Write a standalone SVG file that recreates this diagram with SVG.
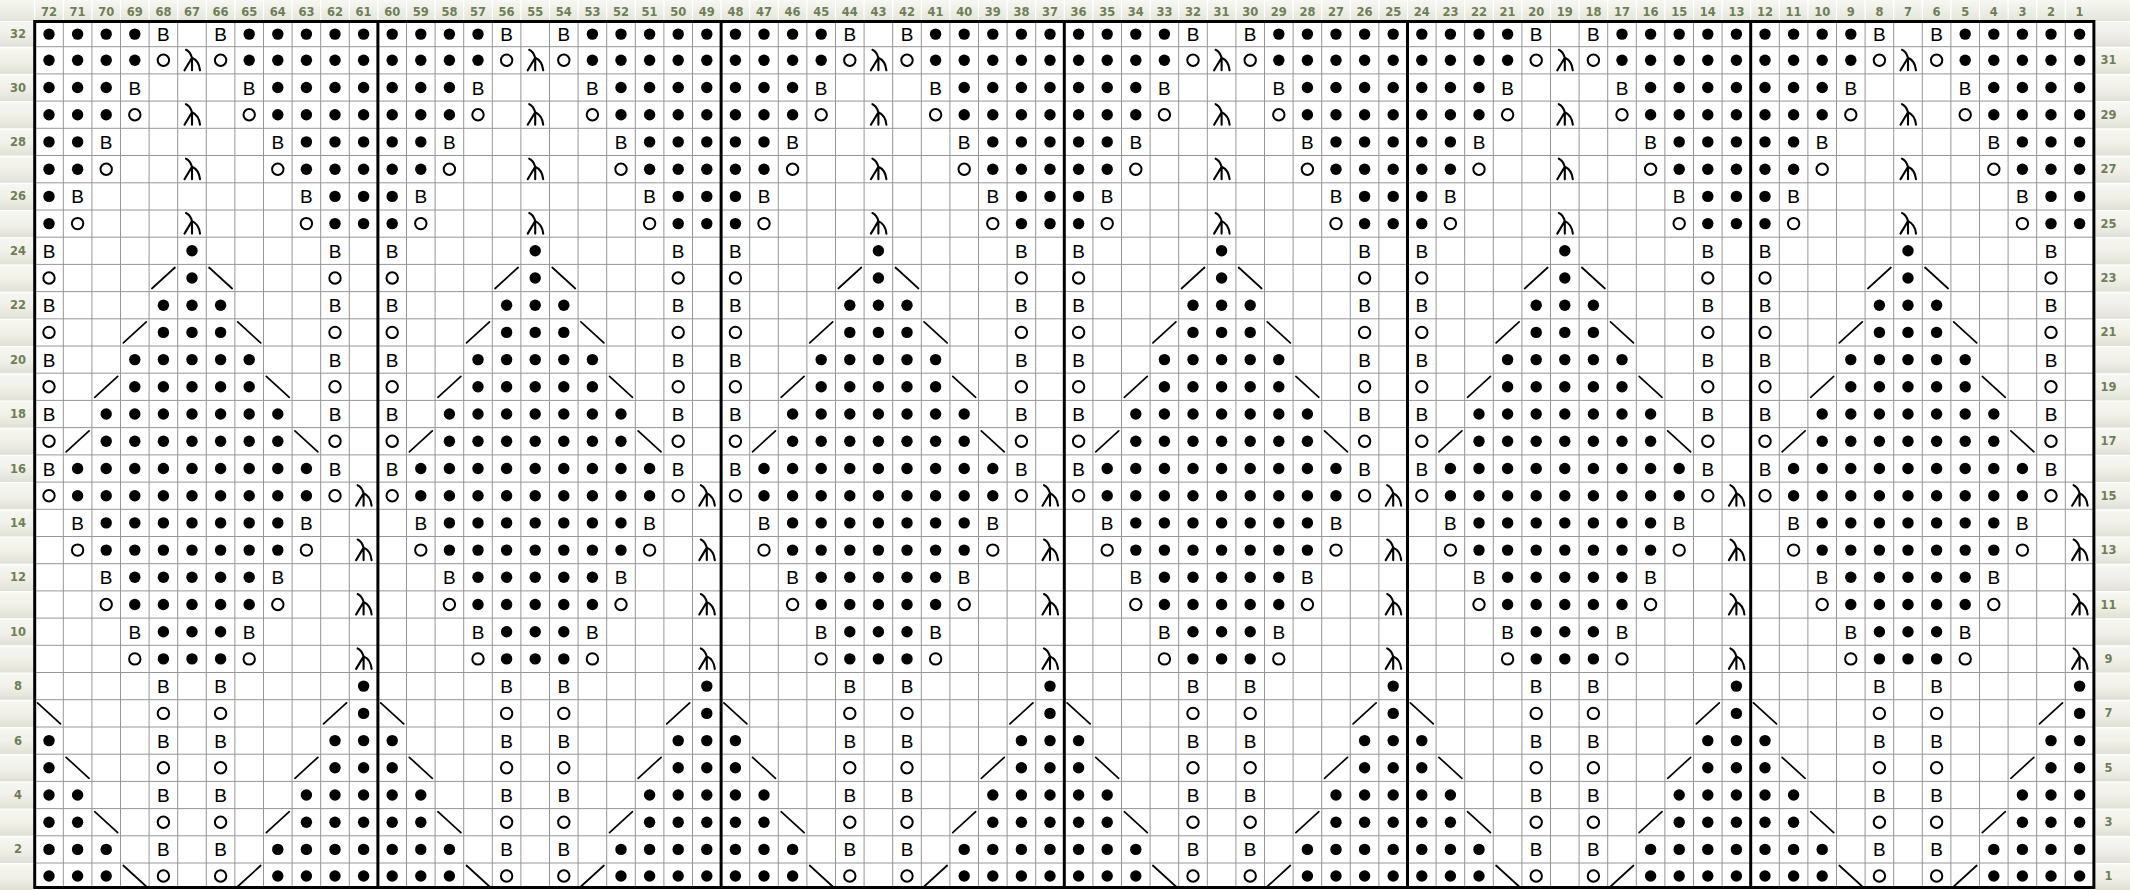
<svg xmlns="http://www.w3.org/2000/svg" width="2130" height="890" viewBox="0 0 2130 890">
<style>
.gl{stroke:#969696;stroke-width:1;fill:none}
.hs{stroke:#ffffff;stroke-width:1.2;fill:none}
.tk{stroke:#000;stroke-width:3;fill:none;stroke-linecap:square}
.lbl{font-family:"DejaVu Sans",Verdana,sans-serif;font-weight:bold;font-size:11.5px;fill:#6f7e57;text-anchor:middle}
.b{font-family:"Liberation Sans",Arial,sans-serif;font-size:19px;fill:#000;text-anchor:middle}
.dg{stroke:#000;stroke-width:1.7;stroke-linecap:round;fill:none}
</style>
<defs>
<linearGradient id="hg" x1="0" y1="0" x2="0" y2="1"><stop offset="0" stop-color="#f8f8f3"/><stop offset="1" stop-color="#e3e5d9"/></linearGradient>
<linearGradient id="sg" x1="0" y1="0" x2="0" y2="1"><stop offset="0" stop-color="#f7f7f2"/><stop offset="0.5" stop-color="#f1f1ea"/><stop offset="1" stop-color="#e0e1d5"/></linearGradient>
<pattern id="sp" patternUnits="userSpaceOnUse" x="0" y="19.49" width="40" height="27.21"><rect width="40" height="27.21" fill="url(#sg)"/><rect width="40" height="1.2" fill="#fff"/></pattern>
<circle id="d" r="5.7" fill="#000"/>
<circle id="o" r="5.7" fill="none" stroke="#000" stroke-width="2"/>
<text id="B" class="b" x="0" y="7">B</text>
<path id="l" d="M-6,-10.5Q-2,-9 0,-2.5M0,-2.5L-7.5,10M0,-2.5L0,10M0,-2.5Q7,0.5 8,10" fill="none" stroke="#000" stroke-width="2.1" stroke-linecap="round"/>
<line id="f" class="dg" x1="-11.5" y1="10.5" x2="11.5" y2="-10.5"/>
<line id="k" class="dg" x1="-11.5" y1="-10.5" x2="11.5" y2="10.5"/>
<g id="rep">
<path class="hs" d="M0,0V21M28.6,0V21M57.2,0V21M85.8,0V21M114.4,0V21M143,0V21M171.6,0V21M200.2,0V21M228.8,0V21M257.4,0V21M286,0V21M314.6,0V21"/>
<path class="gl" d="M28.6,21.5V887.5M57.2,21.5V887.5M85.8,21.5V887.5M114.4,21.5V887.5M143,21.5V887.5M171.6,21.5V887.5M200.2,21.5V887.5M228.8,21.5V887.5M257.4,21.5V887.5M286,21.5V887.5M314.6,21.5V887.5"/>
<g transform="translate(0,34.1)"><use href="#d" x="14.3"/><use href="#d" x="42.9"/><use href="#d" x="71.5"/><use href="#d" x="100.1"/><use href="#B" x="128.7"/><use href="#B" x="185.9"/><use href="#d" x="214.5"/><use href="#d" x="243.1"/><use href="#d" x="271.7"/><use href="#d" x="300.3"/><use href="#d" x="328.9"/></g>
<g transform="translate(0,60.3)"><use href="#d" x="14.3"/><use href="#d" x="42.9"/><use href="#d" x="71.5"/><use href="#d" x="100.1"/><use href="#o" x="128.7"/><use href="#l" x="157.3"/><use href="#o" x="185.9"/><use href="#d" x="214.5"/><use href="#d" x="243.1"/><use href="#d" x="271.7"/><use href="#d" x="300.3"/><use href="#d" x="328.9"/></g>
<g transform="translate(0,87.5)"><use href="#d" x="14.3"/><use href="#d" x="42.9"/><use href="#d" x="71.5"/><use href="#B" x="100.1"/><use href="#B" x="214.5"/><use href="#d" x="243.1"/><use href="#d" x="271.7"/><use href="#d" x="300.3"/><use href="#d" x="328.9"/></g>
<g transform="translate(0,114.7)"><use href="#d" x="14.3"/><use href="#d" x="42.9"/><use href="#d" x="71.5"/><use href="#o" x="100.1"/><use href="#l" x="157.3"/><use href="#o" x="214.5"/><use href="#d" x="243.1"/><use href="#d" x="271.7"/><use href="#d" x="300.3"/><use href="#d" x="328.9"/></g>
<g transform="translate(0,141.9)"><use href="#d" x="14.3"/><use href="#d" x="42.9"/><use href="#B" x="71.5"/><use href="#B" x="243.1"/><use href="#d" x="271.7"/><use href="#d" x="300.3"/><use href="#d" x="328.9"/></g>
<g transform="translate(0,169.2)"><use href="#d" x="14.3"/><use href="#d" x="42.9"/><use href="#o" x="71.5"/><use href="#l" x="157.3"/><use href="#o" x="243.1"/><use href="#d" x="271.7"/><use href="#d" x="300.3"/><use href="#d" x="328.9"/></g>
<g transform="translate(0,196.4)"><use href="#d" x="14.3"/><use href="#B" x="42.9"/><use href="#B" x="271.7"/><use href="#d" x="300.3"/><use href="#d" x="328.9"/></g>
<g transform="translate(0,223.6)"><use href="#d" x="14.3"/><use href="#o" x="42.9"/><use href="#l" x="157.3"/><use href="#o" x="271.7"/><use href="#d" x="300.3"/><use href="#d" x="328.9"/></g>
<g transform="translate(0,250.8)"><use href="#B" x="14.3"/><use href="#d" x="157.3"/><use href="#B" x="300.3"/></g>
<g transform="translate(0,278)"><use href="#o" x="14.3"/><use href="#f" x="128.7"/><use href="#d" x="157.3"/><use href="#k" x="185.9"/><use href="#o" x="300.3"/></g>
<g transform="translate(0,305.2)"><use href="#B" x="14.3"/><use href="#d" x="128.7"/><use href="#d" x="157.3"/><use href="#d" x="185.9"/><use href="#B" x="300.3"/></g>
<g transform="translate(0,332.4)"><use href="#o" x="14.3"/><use href="#f" x="100.1"/><use href="#d" x="128.7"/><use href="#d" x="157.3"/><use href="#d" x="185.9"/><use href="#k" x="214.5"/><use href="#o" x="300.3"/></g>
<g transform="translate(0,359.6)"><use href="#B" x="14.3"/><use href="#d" x="100.1"/><use href="#d" x="128.7"/><use href="#d" x="157.3"/><use href="#d" x="185.9"/><use href="#d" x="214.5"/><use href="#B" x="300.3"/></g>
<g transform="translate(0,386.8)"><use href="#o" x="14.3"/><use href="#f" x="71.5"/><use href="#d" x="100.1"/><use href="#d" x="128.7"/><use href="#d" x="157.3"/><use href="#d" x="185.9"/><use href="#d" x="214.5"/><use href="#k" x="243.1"/><use href="#o" x="300.3"/></g>
<g transform="translate(0,414)"><use href="#B" x="14.3"/><use href="#d" x="71.5"/><use href="#d" x="100.1"/><use href="#d" x="128.7"/><use href="#d" x="157.3"/><use href="#d" x="185.9"/><use href="#d" x="214.5"/><use href="#d" x="243.1"/><use href="#B" x="300.3"/></g>
<g transform="translate(0,441.3)"><use href="#o" x="14.3"/><use href="#f" x="42.9"/><use href="#d" x="71.5"/><use href="#d" x="100.1"/><use href="#d" x="128.7"/><use href="#d" x="157.3"/><use href="#d" x="185.9"/><use href="#d" x="214.5"/><use href="#d" x="243.1"/><use href="#k" x="271.7"/><use href="#o" x="300.3"/></g>
<g transform="translate(0,468.5)"><use href="#B" x="14.3"/><use href="#d" x="42.9"/><use href="#d" x="71.5"/><use href="#d" x="100.1"/><use href="#d" x="128.7"/><use href="#d" x="157.3"/><use href="#d" x="185.9"/><use href="#d" x="214.5"/><use href="#d" x="243.1"/><use href="#d" x="271.7"/><use href="#B" x="300.3"/></g>
<g transform="translate(0,495.7)"><use href="#o" x="14.3"/><use href="#d" x="42.9"/><use href="#d" x="71.5"/><use href="#d" x="100.1"/><use href="#d" x="128.7"/><use href="#d" x="157.3"/><use href="#d" x="185.9"/><use href="#d" x="214.5"/><use href="#d" x="243.1"/><use href="#d" x="271.7"/><use href="#o" x="300.3"/><use href="#l" x="328.9"/></g>
<g transform="translate(0,522.9)"><use href="#B" x="42.9"/><use href="#d" x="71.5"/><use href="#d" x="100.1"/><use href="#d" x="128.7"/><use href="#d" x="157.3"/><use href="#d" x="185.9"/><use href="#d" x="214.5"/><use href="#d" x="243.1"/><use href="#B" x="271.7"/></g>
<g transform="translate(0,550.1)"><use href="#o" x="42.9"/><use href="#d" x="71.5"/><use href="#d" x="100.1"/><use href="#d" x="128.7"/><use href="#d" x="157.3"/><use href="#d" x="185.9"/><use href="#d" x="214.5"/><use href="#d" x="243.1"/><use href="#o" x="271.7"/><use href="#l" x="328.9"/></g>
<g transform="translate(0,577.3)"><use href="#B" x="71.5"/><use href="#d" x="100.1"/><use href="#d" x="128.7"/><use href="#d" x="157.3"/><use href="#d" x="185.9"/><use href="#d" x="214.5"/><use href="#B" x="243.1"/></g>
<g transform="translate(0,604.5)"><use href="#o" x="71.5"/><use href="#d" x="100.1"/><use href="#d" x="128.7"/><use href="#d" x="157.3"/><use href="#d" x="185.9"/><use href="#d" x="214.5"/><use href="#o" x="243.1"/><use href="#l" x="328.9"/></g>
<g transform="translate(0,631.7)"><use href="#B" x="100.1"/><use href="#d" x="128.7"/><use href="#d" x="157.3"/><use href="#d" x="185.9"/><use href="#B" x="214.5"/></g>
<g transform="translate(0,658.9)"><use href="#o" x="100.1"/><use href="#d" x="128.7"/><use href="#d" x="157.3"/><use href="#d" x="185.9"/><use href="#o" x="214.5"/><use href="#l" x="328.9"/></g>
<g transform="translate(0,686.1)"><use href="#B" x="128.7"/><use href="#B" x="185.9"/><use href="#d" x="328.9"/></g>
<g transform="translate(0,713.4)"><use href="#k" x="14.3"/><use href="#o" x="128.7"/><use href="#o" x="185.9"/><use href="#f" x="300.3"/><use href="#d" x="328.9"/></g>
<g transform="translate(0,740.6)"><use href="#d" x="14.3"/><use href="#B" x="128.7"/><use href="#B" x="185.9"/><use href="#d" x="300.3"/><use href="#d" x="328.9"/></g>
<g transform="translate(0,767.8)"><use href="#d" x="14.3"/><use href="#k" x="42.9"/><use href="#o" x="128.7"/><use href="#o" x="185.9"/><use href="#f" x="271.7"/><use href="#d" x="300.3"/><use href="#d" x="328.9"/></g>
<g transform="translate(0,795)"><use href="#d" x="14.3"/><use href="#d" x="42.9"/><use href="#B" x="128.7"/><use href="#B" x="185.9"/><use href="#d" x="271.7"/><use href="#d" x="300.3"/><use href="#d" x="328.9"/></g>
<g transform="translate(0,822.2)"><use href="#d" x="14.3"/><use href="#d" x="42.9"/><use href="#k" x="71.5"/><use href="#o" x="128.7"/><use href="#o" x="185.9"/><use href="#f" x="243.1"/><use href="#d" x="271.7"/><use href="#d" x="300.3"/><use href="#d" x="328.9"/></g>
<g transform="translate(0,849.4)"><use href="#d" x="14.3"/><use href="#d" x="42.9"/><use href="#d" x="71.5"/><use href="#B" x="128.7"/><use href="#B" x="185.9"/><use href="#d" x="243.1"/><use href="#d" x="271.7"/><use href="#d" x="300.3"/><use href="#d" x="328.9"/></g>
<g transform="translate(0,876)"><use href="#d" x="14.3"/><use href="#d" x="42.9"/><use href="#d" x="71.5"/><use href="#k" x="100.1"/><use href="#o" x="128.7"/><use href="#o" x="185.9"/><use href="#f" x="214.5"/><use href="#d" x="243.1"/><use href="#d" x="271.7"/><use href="#d" x="300.3"/><use href="#d" x="328.9"/></g>
</g>
</defs>
<rect width="2130" height="890" fill="#fff"/>
<g id="header">
<rect x="0" y="0" width="2130" height="21" fill="url(#hg)"/>
<rect x="0" y="21.5" width="33" height="868.5" fill="url(#sp)"/>
<rect x="2095.5" y="21.5" width="34.5" height="868.5" fill="url(#sp)"/>
</g>
<g id="chart">
<use href="#rep" x="34.7"/>
<use href="#rep" x="377.9"/>
<use href="#rep" x="721.1"/>
<use href="#rep" x="1064.3"/>
<use href="#rep" x="1407.5"/>
<use href="#rep" x="1750.7"/>
<path class="gl" d="M34.7,46.7H2093.9M34.7,73.9H2093.9M34.7,101.1H2093.9M34.7,128.3H2093.9M34.7,155.5H2093.9M34.7,182.8H2093.9M34.7,210H2093.9M34.7,237.2H2093.9M34.7,264.4H2093.9M34.7,291.6H2093.9M34.7,318.8H2093.9M34.7,346H2093.9M34.7,373.2H2093.9M34.7,400.4H2093.9M34.7,427.6H2093.9M34.7,454.9H2093.9M34.7,482.1H2093.9M34.7,509.3H2093.9M34.7,536.5H2093.9M34.7,563.7H2093.9M34.7,590.9H2093.9M34.7,618.1H2093.9M34.7,645.3H2093.9M34.7,672.5H2093.9M34.7,699.7H2093.9M34.7,727H2093.9M34.7,754.2H2093.9M34.7,781.4H2093.9M34.7,808.6H2093.9M34.7,835.8H2093.9M34.7,863H2093.9"/>
<path class="tk" d="M34.7,21.5H2093.9M34.7,887.5H2093.9M34.7,21.5V887.5M377.9,21.5V887.5M721.1,21.5V887.5M1064.3,21.5V887.5M1407.5,21.5V887.5M1750.7,21.5V887.5M2093.9,21.5V887.5"/>
</g>
<g id="col-labels" class="lbl">
<text x="49" y="15.5">72</text><text x="77.6" y="15.5">71</text><text x="106.2" y="15.5">70</text><text x="134.8" y="15.5">69</text><text x="163.4" y="15.5">68</text><text x="192" y="15.5">67</text><text x="220.6" y="15.5">66</text><text x="249.2" y="15.5">65</text><text x="277.8" y="15.5">64</text><text x="306.4" y="15.5">63</text><text x="335" y="15.5">62</text><text x="363.6" y="15.5">61</text>
<text x="392.2" y="15.5">60</text><text x="420.8" y="15.5">59</text><text x="449.4" y="15.5">58</text><text x="478" y="15.5">57</text><text x="506.6" y="15.5">56</text><text x="535.2" y="15.5">55</text><text x="563.8" y="15.5">54</text><text x="592.4" y="15.5">53</text><text x="621" y="15.5">52</text><text x="649.6" y="15.5">51</text><text x="678.2" y="15.5">50</text><text x="706.8" y="15.5">49</text>
<text x="735.4" y="15.5">48</text><text x="764" y="15.5">47</text><text x="792.6" y="15.5">46</text><text x="821.2" y="15.5">45</text><text x="849.8" y="15.5">44</text><text x="878.4" y="15.5">43</text><text x="907" y="15.5">42</text><text x="935.6" y="15.5">41</text><text x="964.2" y="15.5">40</text><text x="992.8" y="15.5">39</text><text x="1021.4" y="15.5">38</text><text x="1050" y="15.5">37</text>
<text x="1078.6" y="15.5">36</text><text x="1107.2" y="15.5">35</text><text x="1135.8" y="15.5">34</text><text x="1164.4" y="15.5">33</text><text x="1193" y="15.5">32</text><text x="1221.6" y="15.5">31</text><text x="1250.2" y="15.5">30</text><text x="1278.8" y="15.5">29</text><text x="1307.4" y="15.5">28</text><text x="1336" y="15.5">27</text><text x="1364.6" y="15.5">26</text><text x="1393.2" y="15.5">25</text>
<text x="1421.8" y="15.5">24</text><text x="1450.4" y="15.5">23</text><text x="1479" y="15.5">22</text><text x="1507.6" y="15.5">21</text><text x="1536.2" y="15.5">20</text><text x="1564.8" y="15.5">19</text><text x="1593.4" y="15.5">18</text><text x="1622" y="15.5">17</text><text x="1650.6" y="15.5">16</text><text x="1679.2" y="15.5">15</text><text x="1707.8" y="15.5">14</text><text x="1736.4" y="15.5">13</text>
<text x="1765" y="15.5">12</text><text x="1793.6" y="15.5">11</text><text x="1822.2" y="15.5">10</text><text x="1850.8" y="15.5">9</text><text x="1879.4" y="15.5">8</text><text x="1908" y="15.5">7</text><text x="1936.6" y="15.5">6</text><text x="1965.2" y="15.5">5</text><text x="1993.8" y="15.5">4</text><text x="2022.4" y="15.5">3</text><text x="2051" y="15.5">2</text><text x="2079.6" y="15.5">1</text>
</g>
<g id="row-labels-left" class="lbl">
<text x="18" y="38.1">32</text><text x="18" y="91.5">30</text><text x="18" y="145.9">28</text><text x="18" y="200.4">26</text><text x="18" y="254.8">24</text><text x="18" y="309.2">22</text><text x="18" y="363.6">20</text><text x="18" y="418">18</text><text x="18" y="472.5">16</text><text x="18" y="526.9">14</text><text x="18" y="581.3">12</text><text x="18" y="635.7">10</text><text x="18" y="690.1">8</text><text x="18" y="744.6">6</text><text x="18" y="799">4</text><text x="18" y="853.4">2</text>
</g>
<g id="row-labels-right" class="lbl">
<text x="2108.5" y="64.3">31</text><text x="2108.5" y="118.7">29</text><text x="2108.5" y="173.2">27</text><text x="2108.5" y="227.6">25</text><text x="2108.5" y="282">23</text><text x="2108.5" y="336.4">21</text><text x="2108.5" y="390.8">19</text><text x="2108.5" y="445.3">17</text><text x="2108.5" y="499.7">15</text><text x="2108.5" y="554.1">13</text><text x="2108.5" y="608.5">11</text><text x="2108.5" y="662.9">9</text><text x="2108.5" y="717.4">7</text><text x="2108.5" y="771.8">5</text><text x="2108.5" y="826.2">3</text><text x="2108.5" y="880">1</text>
</g>
</svg>
